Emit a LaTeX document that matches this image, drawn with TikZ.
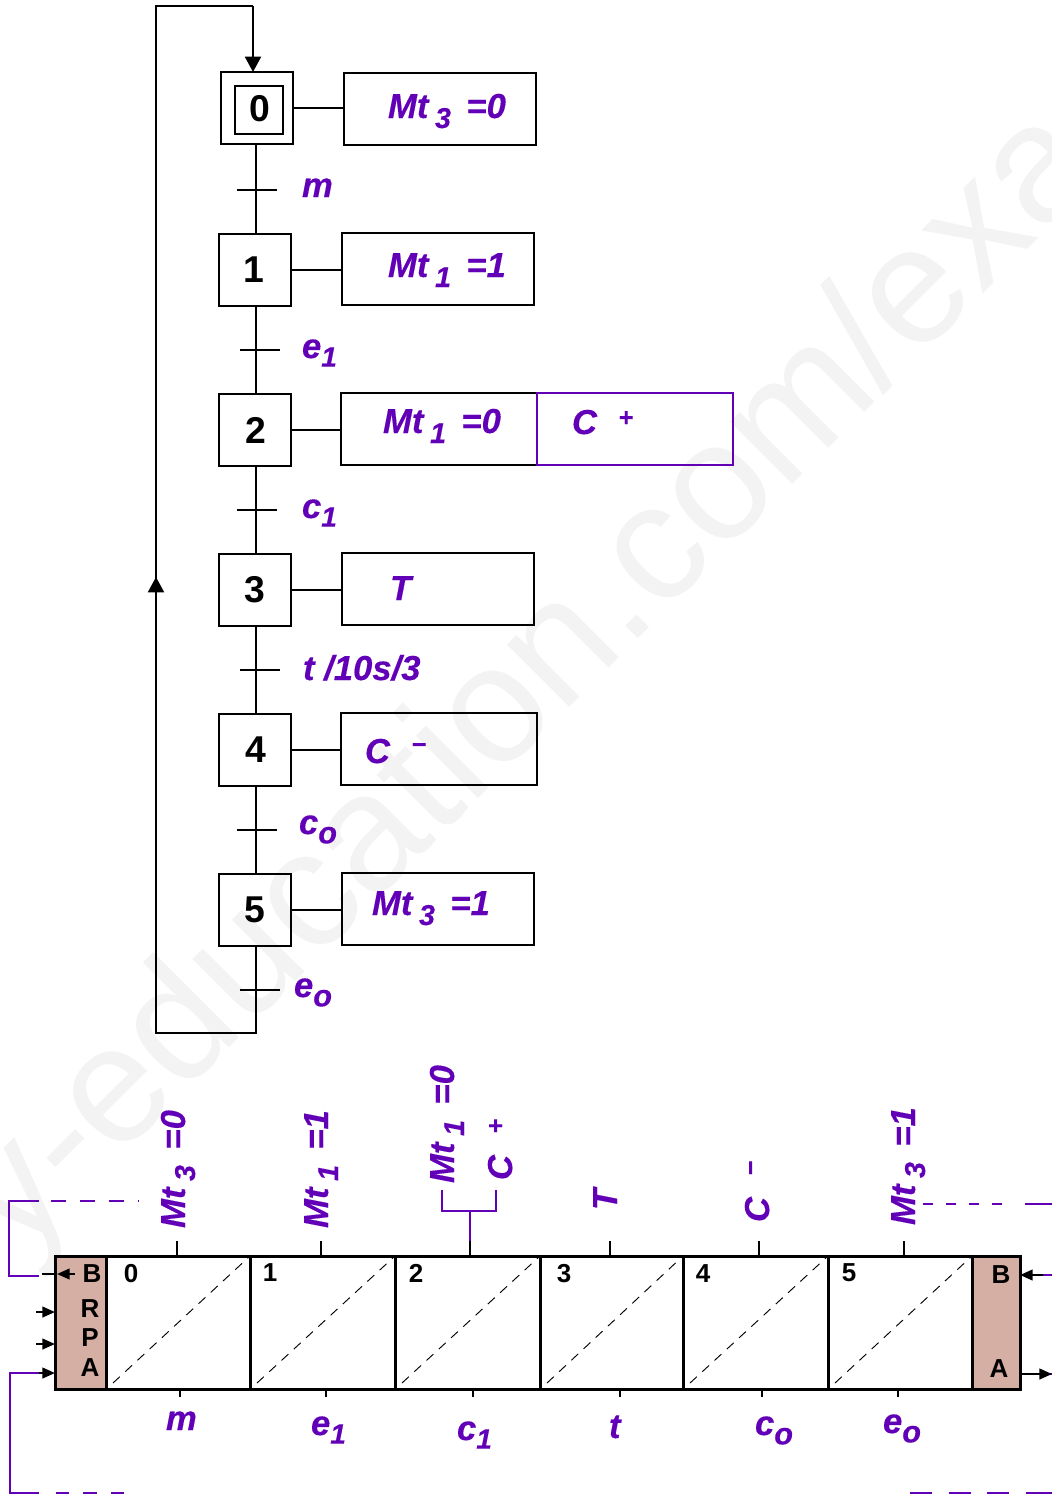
\documentclass[tikz,border=0pt]{standalone}
\usepackage{fontspec}
\setmainfont{Liberation Sans}
\newfontfamily\lf[FakeBold=0.35]{Liberation Sans}
\usetikzlibrary{arrows.meta,calc}
\definecolor{vio}{HTML}{6200B8}
\definecolor{pnk}{HTML}{D6AFA4}
\definecolor{wm}{HTML}{F3F3F3}
\newcommand\fz[1]{\fontsize{#1}{#1}\selectfont}
\newcommand\Mtlab[2]{Mt\kern5pt\raisebox{-7.5pt}{\fz{21.5}#1}\kern11.5pt #2}
\newcommand\Cplus[1]{C\kern#1\raisebox{6pt}{\fz{19}+}}
\newcommand\Cminus[1]{C\kern#1\raisebox{7.5pt}{\fz{19}−}}
\newcommand\subs[2]{#1\raisebox{-6.5pt}{\fz{21}#2}}
\newcommand\subo[1]{#1\raisebox{-7pt}{\fz{23}o}}
\newcommand\lowcell[3]{\node[cell,minimum width={(#3-#2)*0.75pt}] (#1) at ({(#2+#3)/2},1322.5) {};}
\tikzset{
  x=0.75pt,y=-0.75pt,
  stepbox/.style={draw,line width=1.5pt,minimum size=54pt,inner sep=0,outer sep=0,font=\fz{28}\bfseries},
  initbox/.style={draw,line width=1.5pt,minimum size=36pt,inner sep=0,outer sep=0,font=\fz{28}\bfseries},
  actbox/.style={draw,line width=1.5pt,minimum width=144pt,minimum height=54pt,inner sep=0,outer sep=0},
  lnk/.style={line width=1.5pt},
  lab/.style={text=vio,font=\fz{26}\lf\bfseries\itshape,inner sep=0,outer sep=0,anchor=base west},
  rlab/.style={lab,rotate=90},
  cell/.style={draw,line width=2.25pt,minimum height=99.75pt,inner sep=0,outer sep=0},
  diag/.style={line width=0.7pt,dash pattern=on 7pt off 5.5pt},
  num/.style={font=\fz{19.5}\bfseries,inner sep=0,outer sep=0},
  stub/.style={line width=2pt},
  vl/.style={vio,line width=1.9pt},
  vd/.style={vio,line width=1.9pt,dash pattern=on 10pt off 10.5pt},
  blk/.style={line width=1.6pt,-{Triangle[length=9.5pt,width=8pt]}},
}
\begin{document}
\begin{tikzpicture}
\useasboundingbox (0,0) rectangle (1052,1495);
\begin{scope}
\clip (0,0) rectangle (1052,1495);
\node[rotate=45,text=wm,inner sep=0,anchor=base,font=\fz{125}] (wmark) at (562,715) {y-education.com/exa};
\end{scope}

% Grafcet steps
\coordinate (tr) at (255.5,0);
\node[stepbox] (s0) at (257,108) {};
\node[initbox] (s0i) at (259,110) {\raisebox{2.4pt}{\kern2pt 0}};
\node[stepbox] (s1) at (255,270) {\raisebox{-2.5pt}{1\kern1.5pt}};
\node[stepbox] (s2) at (255,430) {\raisebox{0pt}{\kern2pt 2}};
\node[stepbox] (s3) at (255,590) {\raisebox{-1.6pt}{3}};
\node[stepbox] (s4) at (255,750) {\raisebox{0pt}{\kern2pt 4}};
\node[stepbox] (s5) at (255,910) {\raisebox{-2.5pt}{5}};

% Actions
\node[actbox] (a0) at (440,109) {};
\node[actbox] (a1) at (438,269) {};
\node[actbox,minimum width=147pt] (a2) at (439,429) {};
\node[actbox,draw=vio,minimum width=147pt] (a2b) at (635,429) {};
\node[actbox] (a3) at (438,589) {};
\node[actbox,minimum width=147pt] (a4) at (439,749) {};
\node[actbox] (a5) at (438,909) {};

\node[lab] (ta0) at (388,118) {\Mtlab{3}{=0}};
\node[lab] (ta1) at (388,277) {\Mtlab{1}{=1}};
\node[lab] (ta2) at (383,433) {\Mtlab{1}{=0}};
\node[lab] (ta2b) at (572,434) {\Cplus{16pt}};
\node[lab] (ta3) at (390,600) {T};
\node[lab] (ta4) at (365,763) {\Cminus{16pt}};
\node[lab] (ta5) at (372,915) {\Mtlab{3}{=1}};

\foreach \i in {0,...,5}{
  \draw[lnk] (s\i.east) -- (s\i.east -| a\i.west);
}
\draw[lnk] (s0.south -| tr) -- (s1.north -| tr);
\draw[lnk] (s1.south -| tr) -- (s2.north -| tr);
\draw[lnk] (s2.south -| tr) -- (s3.north -| tr);
\draw[lnk] (s3.south -| tr) -- (s4.north -| tr);
\draw[lnk] (s4.south -| tr) -- (s5.north -| tr);

% Transitions
\foreach \n/\xa/\xb/\yy in {t0/237/277/190,t1/240/280/350,t2/237/277/510,t3/240/280/670,t4/237/277/830,t5/240/280/990}{
  \coordinate (\n l) at (\xa,\yy);
  \coordinate (\n r) at (\xb,\yy);
  \draw[lnk] (\n l) -- (\n r);
}
\node[lab] (lt0) at (302,197) {m};
\node[lab] (lt1) at (302,358) {\subs{e}{1}};
\node[lab] (lt2) at (302,518) {\subs{c}{1}};
\node[lab] (lt3) at (303,680) {t /10s/3};
\node[lab] (lt4) at (299,834) {\subo{c}};
\node[lab] (lt5) at (294,997) {\subo{e}};

% Loop
\coordinate (lb) at (255.5,1033);
\coordinate (lc) at (156,1033);
\coordinate (ld) at (156,6);
\coordinate (le) at (253,6);
\coordinate (lm) at (156,577);
\draw[lnk] (s5.south -| tr) -- (lb) -- (lc) -- (ld) -- (le);
\draw[lnk,-{Triangle[length=11.5pt,width=12pt]}] (le) -- (le |- s0.north);
\draw[lnk,-{Triangle[length=11.5pt,width=12pt]}] (lc) -- (lm);

% Timing chart
\node[draw,fill=pnk,line width=2.25pt,minimum width=38.25pt,minimum height=99.75pt,inner sep=0,outer sep=0] (bl) at (80.5,1322.5) {};
\node[draw,fill=pnk,line width=2.25pt,minimum width=36pt,minimum height=99.75pt,inner sep=0,outer sep=0] (br) at (996,1322.5) {};
\lowcell{c0}{106}{250}
\lowcell{c1}{250}{395}
\lowcell{c2}{395}{540}
\lowcell{c3}{540}{683}
\lowcell{c4}{683}{828}
\lowcell{c5}{828}{972}
\foreach \i in {0,...,5}{
  \draw[diag] ($(c\i.south west)+(7,-6)$) -- (c\i.north east);
}
\node[num] (n0) at (131,1274) {0};
\node[num] (n1) at (270,1273) {1};
\node[num] (n2) at (416,1273) {2};
\node[num] (n3) at (564,1274) {3};
\node[num] (n4) at (703,1274) {4};
\node[num] (n5) at (849,1273) {5};
\node[num] (lB) at (92,1274) {B};
\node[num] (lR) at (90,1309) {R};
\node[num] (lP) at (90,1338) {P};
\node[num] (lA) at (90,1368) {A};
\node[num] (rB) at (1001,1275) {B};
\node[num] (rA) at (999,1369) {A};

% Upper stubs and rotated labels
\foreach \n/\xx in {0/177,1/321,2/470,3/610,4/759,5/904}{
  \coordinate (u\n) at (\xx,1241);
  \draw[stub] (u\n) -- (u\n |- c0.north);
}
\foreach \n/\xx in {0/180,1/326,2/473,3/620,4/762,5/898}{
  \coordinate (d\n) at (\xx,1397);
  \draw[stub] (d\n) -- (d\n |- c0.south);
}
\node[rlab] (r0) at (185,1228) {\Mtlab{3}{=0}};
\node[rlab] (r1) at (328,1228) {\Mtlab{1}{=1}};
\node[rlab] (r2) at (454,1183) {\Mtlab{1}{=0}};
\node[rlab] (r2b) at (512,1180) {\Cplus{16pt}};
\node[rlab] (r3) at (617,1210) {T};
\node[rlab] (r4) at (769,1222) {\Cminus{16pt}};
\node[rlab] (r5) at (915,1225) {\Mtlab{3}{=1}};
\coordinate (bka) at (442,1190);
\coordinate (bkb) at (442,1211);
\coordinate (bkc) at (496,1211);
\coordinate (bkd) at (496,1190);
\coordinate (bkm) at (470,1211);
\draw[vl] (bka) -- (bkb) -- (bkc) -- (bkd);
\draw[vl] (bkm) -- (u2);

% Bottom labels
\node[lab] (b0) at (166,1430) {m};
\node[lab] (b1) at (311,1435) {\subs{e}{1}};
\node[lab] (b2) at (457,1440) {\subs{c}{1}};
\node[lab] (b3) at (609,1438) {t};
\node[lab] (b4) at (755,1435) {\subo{c}};
\node[lab] (b5) at (883,1433) {\subo{e}};

% Left feedback
\coordinate (la) at (139,1201);
\coordinate (la0) at (51,1201);
\coordinate (la1) at (39,1201);
\coordinate (la2) at (9,1201);
\coordinate (la3) at (9,1276);
\coordinate (la4) at (39,1276);
\draw[vl] (la1) -- (la2) -- (la3) -- (la4);
\draw[vd,dash pattern=on 11.25pt off 10.5pt] (la0) -- (la);
\coordinate (lb1) at (42,1274);
\draw[line width=1.8pt] (lb1) -- (lb1 -| bl.west);
\coordinate (lb2) at (75,1274);
\coordinate (lb3) at (57,1274);
\draw[blk] (lb2) -- (lb3);
\coordinate (lr) at (36,1312);
\coordinate (lp) at (36,1344);
\draw[blk] (lr) -- (lr -| bl.west);
\draw[blk] (lp) -- (lp -| bl.west);
\coordinate (lq1) at (124,1493);
\coordinate (lq0) at (56,1493);
\coordinate (lq2) at (39,1493);
\coordinate (lq3) at (10,1493);
\coordinate (lq4) at (10,1373);
\coordinate (lq5) at (39,1373);
\draw[vd] (lq0) -- (lq1);
\draw[vl] (lq2) -- (lq3) -- (lq4) -- (lq5);
\draw[blk] (lq5) -- (lq5 -| bl.west);

% Right feedback
\coordinate (ra) at (923,1204);
\coordinate (ra1) at (1005,1204);
\coordinate (ra3) at (1025,1204);
\coordinate (ra2) at (1052,1204);
\draw[vio,line width=1.9pt,dash pattern=on 7.5pt off 9.75pt] (ra) -- (ra1);
\draw[vl] (ra3) -- (ra2);
\coordinate (rb1) at (1052,1275);
\coordinate (rb2) at (1043,1275);
\draw[vl] (rb1) -- (rb2);
\draw[blk] (rb2) -- (rb2 -| br.east);
\coordinate (rc1) at (1025,1374);
\coordinate (rc2) at (1052,1374);
\draw[vl] (rc1) -- (rc2);
\draw[blk] (rc1 -| br.east) -- (rc2);
\coordinate (rd1) at (910,1493);
\coordinate (rd3) at (1010,1493);
\coordinate (rd4) at (1026,1493);
\coordinate (rd2) at (1052,1493);
\draw[vio,line width=1.9pt,dash pattern=on 16.5pt off 12.5pt] (rd1) -- (rd3);
\draw[vl] (rd4) -- (rd2);
\end{tikzpicture}
\end{document}
